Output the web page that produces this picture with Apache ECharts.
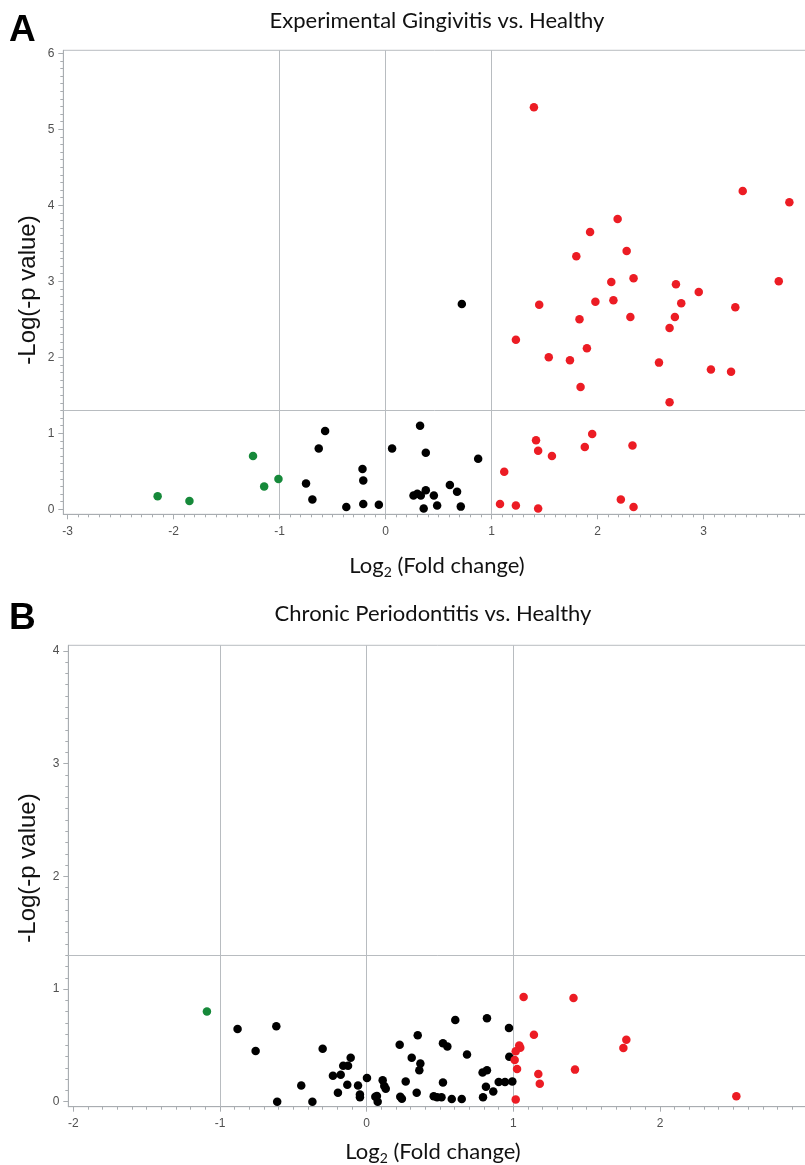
<!DOCTYPE html>
<html><head><meta charset="utf-8">
<script src="https://cdn.jsdelivr.net/npm/echarts@6/dist/echarts.min.js"></script>
<style>html,body{margin:0;padding:0;background:#fff}#c{width:805px;height:1165px}</style>
</head><body><div id="c"></div>
<script>
// ---- Panel A: Experimental Gingivitis vs. Healthy ----
const egDown = [[-2.15,0.17],[-1.85,0.11],[-1.25,0.70],[-1.145,0.30],[-1.01,0.40]];
const egNs = [[-0.57,1.03],[-0.63,0.80],[-0.75,0.34],[-0.69,0.13],[-0.37,0.03],[-0.217,0.53],[-0.21,0.38],[-0.21,0.07],[-0.063,0.06],[0.062,0.80],[0.326,1.10],[0.38,0.745],[0.264,0.18],[0.30,0.205],[0.333,0.18],[0.38,0.25],[0.456,0.18],[0.36,0.01],[0.487,0.05],[0.607,0.32],[0.675,0.23],[0.71,0.035],[0.874,0.665],[0.72,2.70]];
const egUp = [[1.40,5.29],[3.37,4.19],[3.81,4.04],[2.19,3.82],[1.93,3.65],[1.80,3.33],[2.275,3.40],[1.45,2.69],[1.23,2.23],[1.54,2.00],[1.74,1.96],[1.83,2.50],[1.90,2.12],[1.98,2.73],[2.13,2.99],[2.15,2.75],[2.34,3.04],[2.31,2.53],[2.58,1.93],[2.68,2.385],[2.73,2.53],[2.74,2.96],[2.79,2.71],[2.955,2.86],[3.07,1.84],[3.26,1.81],[3.30,2.66],[3.71,3.00],[1.84,1.61],[2.68,1.41],[1.42,0.91],[1.44,0.77],[1.57,0.70],[1.12,0.495],[1.95,0.99],[1.88,0.82],[2.33,0.84],[1.08,0.07],[1.23,0.05],[1.44,0.01],[2.22,0.13],[2.34,0.03]];
const egXTicks = [-3,-2,-1,0,1,2,3];
const egYTicks = [0,1,2,3,4,5,6];

// ---- Panel B: Chronic Periodontitis vs. Healthy ----
const cpDown = [[-1.089,0.80]];
const cpNs = [[-0.88,0.645],[-0.616,0.67],[-0.757,0.45],[-0.30,0.47],[-0.446,0.145],[-0.61,0.0],[-0.37,0.0],[-0.109,0.39],[-0.16,0.32],[-0.127,0.32],[-0.23,0.23],[-0.177,0.24],[-0.132,0.15],[-0.196,0.08],[-0.059,0.145],[-0.046,0.065],[-0.046,0.04],[0.002,0.21],[0.109,0.19],[0.12,0.14],[0.13,0.115],[0.059,0.045],[0.07,0.05],[0.075,0.0],[0.225,0.506],[0.348,0.59],[0.266,0.18],[0.307,0.39],[0.366,0.34],[0.359,0.28],[0.229,0.045],[0.24,0.027],[0.341,0.08],[0.604,0.725],[0.52,0.518],[0.55,0.49],[0.684,0.42],[0.52,0.17],[0.457,0.048],[0.48,0.04],[0.51,0.04],[0.58,0.024],[0.648,0.024],[0.82,0.74],[0.97,0.655],[0.79,0.26],[0.82,0.28],[0.813,0.133],[0.863,0.09],[0.793,0.04],[0.90,0.175],[0.943,0.175],[0.993,0.18],[0.972,0.40]];
const cpUp = [[1.07,0.93],[1.04,0.50],[1.047,0.48],[1.016,0.447],[1.009,0.37],[1.025,0.29],[1.016,0.02],[1.41,0.92],[1.14,0.595],[1.77,0.55],[1.75,0.476],[1.42,0.285],[1.17,0.246],[1.18,0.16],[2.52,0.048]];
const cpXTicks = [-2,-1,0,1,2];
const cpYTicks = [0,1,2,3,4];

// reference lines
const foldLines = [-1,0,1];
const pLine = 1.3;

function steps(a,b,s){const r=[];for(let v=Math.round(a/s);v*s<=b+1e-9;v++)r.push(+(v*s).toFixed(4));return r;}

const axisCol = '#a9adb1';
const refCol = '#b8bcc0';
const RED = '#ec1c24', GREEN = '#16893a', BLACK = '#000000';

const P = [
  {xMin:-3.04, xMax:4.05, yMin:-0.066, yMax:6.04, xT:egXTicks, yT:egYTicks, left:63.3, top:50.3, width:751.5, height:464},
  {xMin:-2.034, xMax:3.05, yMin:-0.044, yMax:4.05, xT:cpXTicks, yT:cpYTicks, left:68.3, top:645.3, width:745.8, height:461.4}
];

const grid = P.map(p=>({left:p.left, top:p.top, width:p.width, height:p.height, show:true, borderColor:refCol, borderWidth:1, containLabel:false, outerBoundsMode:'none'}));
const xAxis = [], yAxis = [];
P.forEach((p,i)=>{
  xAxis.push({type:'value', gridIndex:i, min:p.xMin, max:p.xMax, position:'bottom',
    axisLine:{show:true, onZero:false, lineStyle:{color:axisCol, width:1}},
    axisTick:{show:true, customValues:p.xT, length:5, lineStyle:{color:axisCol}},
    axisLabel:{show:true, customValues:p.xT, margin:11, color:'#505050', fontSize:12, fontFamily:'Liberation Sans'},
    splitLine:{show:false}});
  xAxis.push({type:'value', gridIndex:i, min:p.xMin, max:p.xMax, position:'bottom',
    axisLine:{show:false, onZero:false},
    axisTick:{show:true, customValues:steps(p.xT[0], p.xMax, 0.1), length:3, lineStyle:{color:axisCol}},
    axisLabel:{show:false}, splitLine:{show:false}});
  yAxis.push({type:'value', gridIndex:i, min:p.yMin, max:p.yMax, position:'left',
    axisLine:{show:true, onZero:false, lineStyle:{color:axisCol, width:1}},
    axisTick:{show:true, customValues:p.yT, length:5, lineStyle:{color:axisCol}},
    axisLabel:{show:true, customValues:p.yT, margin:9, color:'#505050', fontSize:12, fontFamily:'Liberation Sans'},
    splitLine:{show:false}});
  yAxis.push({type:'value', gridIndex:i, min:p.yMin, max:p.yMax, position:'left',
    axisLine:{show:false, onZero:false},
    axisTick:{show:true, customValues:steps(0, p.yMax, 0.1), length:3, lineStyle:{color:axisCol}},
    axisLabel:{show:false}, splitLine:{show:false}});
});

function refMark(){
  return {silent:true, symbol:['none','none'], z:1, label:{show:false}, animation:false,
    lineStyle:{color:refCol, type:'solid', width:1},
    data: foldLines.map(v=>({xAxis:v})).concat([{yAxis:pLine}])};
}
function sc(data, color, gi, mark){
  const s = {type:'scatter', xAxisIndex:gi*2, yAxisIndex:gi*2, data, symbolSize:8.5, itemStyle:{color, opacity:1}, z:3, animation:false};
  if(mark) s.markLine = refMark();
  return s;
}
const series = [
  sc(egNs, BLACK, 0, true), sc(egDown, GREEN, 0), sc(egUp, RED, 0),
  sc(cpNs, BLACK, 1, true), sc(cpDown, GREEN, 1), sc(cpUp, RED, 1)
];

const xName = {text:'{a|Log}{s|2}{a| (Fold change)}', rich:{a:{fontSize:22, fontFamily:'Lato', fill:'#111', color:'#111'}, s:{fontSize:14, fontFamily:'Lato', fill:'#111', color:'#111', padding:[12,0,0,0]}}};
function txt(x,y,text,font){return {type:'text', x, y, style:{text, font, fill:'#111', align:'center', verticalAlign:'middle'}};}

const graphic = [
  {type:'text', x:9, y:31, style:{text:'A', font:'bold 37px "Liberation Sans"', fill:'#000', align:'left', verticalAlign:'middle'}},
  {type:'text', x:9, y:619, style:{text:'B', font:'bold 37px "Liberation Sans"', fill:'#000', align:'left', verticalAlign:'middle'}},
  txt(437, 21, 'Experimental Gingivitis vs. Healthy', '22px Lato'),
  txt(433, 614, 'Chronic Periodontitis vs. Healthy', '22px Lato'),
  {type:'text', x:28, y:290, rotation:Math.PI/2, style:{text:'-Log(-p value)', font:'24px "Liberation Sans"', fill:'#111', align:'center', verticalAlign:'middle'}},
  {type:'text', x:28, y:868, rotation:Math.PI/2, style:{text:'-Log(-p value)', font:'24px "Liberation Sans"', fill:'#111', align:'center', verticalAlign:'middle'}},
  {type:'text', x:437, y:566, style:Object.assign({align:'center', verticalAlign:'middle'}, xName)},
  {type:'text', x:433, y:1152, style:Object.assign({align:'center', verticalAlign:'middle'}, xName)}
];

const chart = echarts.init(document.getElementById('c'), null, {renderer:'canvas'});
chart.setOption({backgroundColor:'#fff', animation:false, grid, xAxis, yAxis, series, graphic});
</script></body></html>
